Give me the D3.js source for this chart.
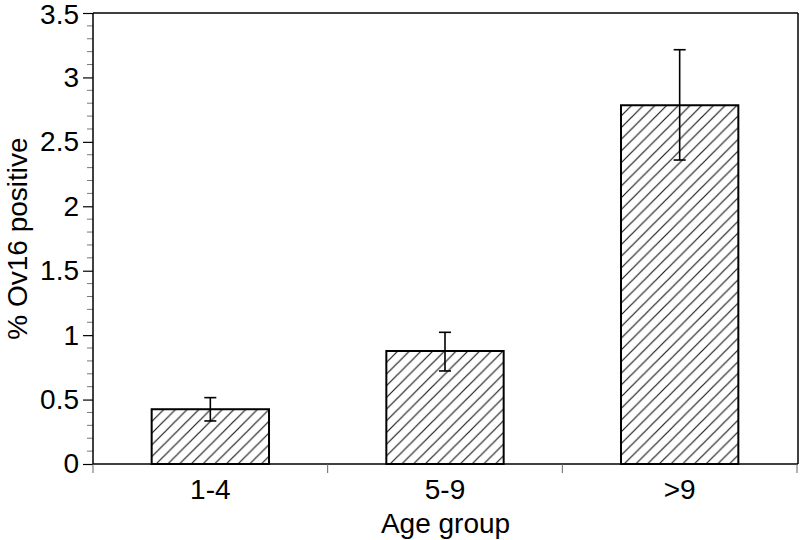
<!DOCTYPE html>
<html>
<head>
<meta charset="utf-8">
<script src="https://cdn.jsdelivr.net/npm/d3@7"></script>
<style>
  body { margin: 0; background: #fff; }
  svg { display: block; font-family: "Liberation Sans", Arial, Helvetica, sans-serif; }
</style>
</head>
<body>
<svg id="chart" width="800" height="540"></svg>
<script>
const categories = ["1-4", "5-9", ">9"];
const values = [0.425, 0.877, 2.784];
const errLow = [0.334, 0.722, 2.359];
const errHigh = [0.515, 1.022, 3.215];
const yTicks = [0, 0.5, 1, 1.5, 2, 2.5, 3, 3.5];
const yTickLabels = ["0", "0.5", "1", "1.5", "2", "2.5", "3", "3.5"];
const xTitle = "Age group";
const yTitle = "% Ov16 positive";

(function () {
const svg = d3.select("#chart");
const pL = 93, pR = 798, pT = 13, pB = 464;

const x = d3.scaleBand().domain(categories).range([pL, pR - 1]).paddingInner(0).paddingOuter(0);
const y = d3.scaleLinear().domain([0, 3.5]).range([pB, pT]);

// hatch pattern
const defs = svg.append("defs");
const pat = defs.append("pattern")
  .attr("id", "hatch")
  .attr("patternUnits", "userSpaceOnUse")
  .attr("width", 11.7).attr("height", 11.7);
pat.append("rect").attr("width", 11.7).attr("height", 11.7).attr("fill", "#fff");
pat.append("path")
  .attr("d", "M-1,12.7 L12.7,-1 M-3,3 L3,-3 M8.7,14.7 L14.7,8.7")
  .attr("stroke", "#1a1a1a").attr("stroke-width", 1.2);

// frame top & right
svg.append("line").attr("x1", pL).attr("x2", pR).attr("y1", pT).attr("y2", pT)
  .attr("stroke", "#000").attr("stroke-width", 1.5);
svg.append("line").attr("x1", pR).attr("x2", pR).attr("y1", pT).attr("y2", pB)
  .attr("stroke", "#000").attr("stroke-width", 1.5);

// y minor ticks
const minor = d3.range(0, 35).map(i => i / 10).filter(v => Math.abs(v * 2 - Math.round(v * 2)) > 1e-6);
svg.append("g").selectAll("line").data(minor).join("line")
  .attr("x1", pL - 6).attr("x2", pL)
  .attr("y1", d => y(d)).attr("y2", d => y(d))
  .attr("stroke", "#777").attr("stroke-width", 1);

// y axis
const yAxis = d3.axisLeft(y).tickValues(yTicks).tickFormat((d, i) => yTickLabels[i]).tickSize(10).tickPadding(4);
const gy = svg.append("g").attr("transform", `translate(${pL},0)`).call(yAxis);
gy.select(".domain").attr("stroke", "#000").attr("stroke-width", 1.5).attr("d", `M0,${pT}V${pB}`);
gy.selectAll(".tick line").attr("stroke", "#000").attr("stroke-width", 1.2);
gy.selectAll(".tick text").attr("font-size", 28).attr("fill", "#000")
  .attr("font-family", "'Liberation Sans', Arial, sans-serif");
gy.selectAll(".tick text").filter(d => d === 3.5).attr("dy", "0.36em");

// x axis line
svg.append("line").attr("x1", pL).attr("x2", pR).attr("y1", pB).attr("y2", pB)
  .attr("stroke", "#000").attr("stroke-width", 1.5);
// x boundary ticks
const bounds = categories.map(c => x(c)).concat([x(categories[categories.length - 1]) + x.bandwidth()]);
svg.append("g").selectAll("line").data(bounds).join("line")
  .attr("x1", d => d).attr("x2", d => d).attr("y1", pB).attr("y2", pB + 9)
  .attr("stroke", "#666").attr("stroke-width", 1);
// x labels
svg.append("g").selectAll("text").data(categories).join("text")
  .attr("x", d => x(d) + x.bandwidth() / 2).attr("y", 499)
  .attr("text-anchor", "middle").attr("font-size", 28).attr("fill", "#000")
  .text(d => d);

// bars
const bw = x.bandwidth() * 0.5;
svg.append("g").selectAll("rect").data(categories).join("rect")
  .attr("x", d => x(d) + (x.bandwidth() - bw) / 2)
  .attr("y", (d, i) => y(values[i]))
  .attr("width", bw)
  .attr("height", (d, i) => pB - y(values[i]))
  .attr("fill", "url(#hatch)")
  .attr("stroke", "#000").attr("stroke-width", 2);

// error bars
const eg = svg.append("g").attr("stroke", "#000").attr("stroke-width", 1.6);
categories.forEach((c, i) => {
  const cx = x(c) + x.bandwidth() / 2;
  eg.append("line").attr("x1", cx).attr("x2", cx).attr("y1", y(errLow[i])).attr("y2", y(errHigh[i]));
  eg.append("line").attr("x1", cx - 6).attr("x2", cx + 6).attr("y1", y(errLow[i])).attr("y2", y(errLow[i]));
  eg.append("line").attr("x1", cx - 6).attr("x2", cx + 6).attr("y1", y(errHigh[i])).attr("y2", y(errHigh[i]));
});

// axis titles
svg.append("text").attr("x", (pL + pR) / 2).attr("y", 533)
  .attr("text-anchor", "middle").attr("font-size", 28).attr("fill", "#000").text(xTitle);
svg.append("text").attr("transform", `translate(27,${(pT + pB) / 2}) rotate(-90)`)
  .attr("text-anchor", "middle").attr("font-size", 28).attr("fill", "#000").text(yTitle);
})();
</script>
</body>
</html>
